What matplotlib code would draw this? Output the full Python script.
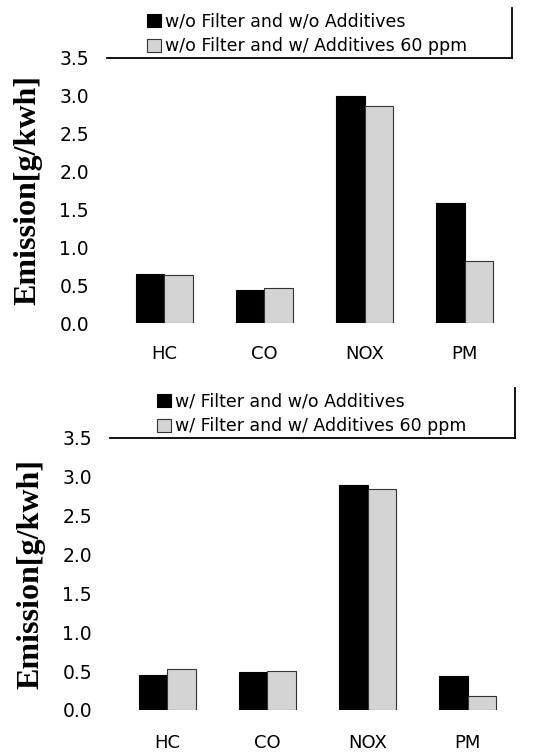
import matplotlib
matplotlib.use("Agg")
import matplotlib.pyplot as plt
from matplotlib.lines import Line2D
import numpy as np

plt.rcParams['font.family'] = ['DejaVu Sans']

categories = ['HC', 'CO', 'NOX', 'PM']
yticks = [0.0, 0.5, 1.0, 1.5, 2.0, 2.5, 3.0, 3.5]

# top panel: without filter
nofilter_noadd = [0.65, 0.43, 3.00, 1.58]
nofilter_add60 = [0.63, 0.46, 2.86, 0.82]
nofilter_labels = ['w/o Filter and w/o Additives', 'w/o Filter and w/ Additives 60 ppm']

# bottom panel: with filter
filter_noadd = [0.45, 0.49, 2.89, 0.44]
filter_add60 = [0.53, 0.50, 2.84, 0.18]
filter_labels = ['w/ Filter and w/o Additives', 'w/ Filter and w/ Additives 60 ppm']

fig = plt.figure(figsize=(5.47, 7.54), dpi=100)


def panel(rect, black_vals, gray_vals, labels, leg_x, line_top, xpad):
    ax = fig.add_axes(rect)
    x = np.arange(len(categories))
    w = 0.285
    ax.bar(x - w / 2, black_vals, w, color='black', edgecolor='black', linewidth=0.8, label=labels[0])
    ax.bar(x + w / 2, gray_vals, w, color='#d4d4d4', edgecolor='#333333', linewidth=0.8, label=labels[1])
    ax.set_xlim(-0.57, 3.47)
    ax.set_ylim(0, 3.5)
    ax.set_xticks(x)
    ax.set_xticklabels(categories, fontsize=13)
    ax.set_yticks(yticks)
    ax.set_yticklabels(['%.1f' % v for v in yticks], fontsize=13.5)
    ax.tick_params(axis='y', length=0, pad=13)
    ax.tick_params(axis='x', length=0, pad=xpad)
    for s in ['left', 'bottom', 'right']:
        ax.spines[s].set_visible(False)
    ax.spines['top'].set_linewidth(1.3)
    ax.set_ylabel('Emission[g/kwh]', family='Liberation Serif', fontweight='bold', fontsize=23)
    ax.yaxis.set_label_coords(-0.16, 0.5)
    ax.legend(loc='lower left', bbox_to_anchor=(leg_x, 1.0), frameon=False, fontsize=12.5,
              handlelength=0.8, handleheight=0.8, handletextpad=0.2, labelspacing=0.4,
              borderaxespad=0.0, borderpad=0.15)
    ax.add_line(Line2D([1.0, 1.0], [1.0, line_top], transform=ax.transAxes, color='black',
                       linewidth=1.3, clip_on=False))
    return ax


panel([0.1956, 0.5716, 0.7404, 0.3515], nofilter_noadd, nofilter_add60, nofilter_labels, 0.093, 1.19, 16)
panel([0.2011, 0.0584, 0.7404, 0.3607], filter_noadd, filter_add60, filter_labels, 0.11, 1.185, 17)

fig.savefig('out.png', dpi=100)
